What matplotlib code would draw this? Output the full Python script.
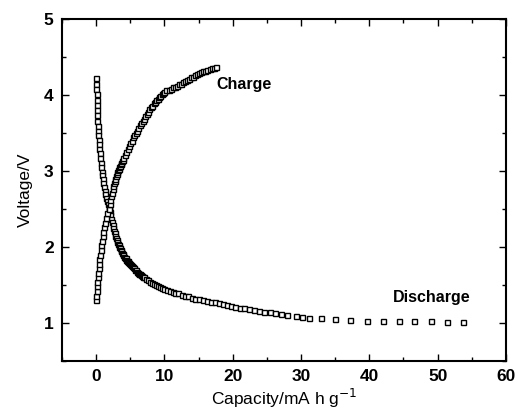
import numpy as np
import matplotlib
matplotlib.use('Agg')
import matplotlib.pyplot as plt
from matplotlib.ticker import MultipleLocator

# charge curve (capacity / mA h g-1, voltage / V)
charge_cap = [0.00, 0.04, 0.08, 0.13, 0.18, 0.23, 0.29, 0.35, 0.42, 0.49,
              0.57, 0.65, 0.74, 0.84, 0.95, 1.07, 1.20, 1.34, 1.49, 1.65,
              1.82, 2.00, 2.1, 2.2, 2.3, 2.4, 2.5, 2.6, 2.7, 2.8,
              2.9, 3.0, 3.1, 3.2, 3.3, 3.4, 3.5, 3.6, 3.7, 3.8,
              3.9, 4.0, 4.2, 4.4, 4.6, 4.8, 5.0, 5.2, 5.4, 5.6,
              5.8, 6.0, 6.2, 6.4, 6.6, 6.8, 7.0, 7.2, 7.4, 7.6,
              7.8, 8.0, 8.2, 8.4, 8.6, 8.8, 9.0, 9.2, 9.4, 9.6,
              9.8, 10.0, 10.3, 10.6, 10.9, 11.2, 11.5, 11.8, 12.1, 12.4,
              12.7, 13.0, 13.3, 13.6, 13.9, 14.2, 14.5, 14.8, 15.1, 15.4,
              15.7, 16.0, 16.3, 16.6, 16.9, 17.2, 17.5]
charge_v = [1.30, 1.36, 1.42, 1.48, 1.54, 1.60, 1.66, 1.72, 1.78, 1.84,
            1.90, 1.96, 2.02, 2.08, 2.14, 2.20, 2.26, 2.32, 2.38, 2.44,
            2.50, 2.57, 2.62, 2.67, 2.71, 2.76, 2.80, 2.84, 2.87, 2.90,
            2.93, 2.96, 2.98, 3.01, 3.03, 3.05, 3.07, 3.09, 3.11, 3.13,
            3.15, 3.17, 3.21, 3.25, 3.29, 3.33, 3.37, 3.40, 3.44, 3.47,
            3.50, 3.53, 3.56, 3.60, 3.63, 3.66, 3.69, 3.72, 3.75, 3.78,
            3.81, 3.84, 3.86, 3.89, 3.91, 3.93, 3.95, 3.97, 3.99, 4.01,
            4.02, 4.04, 4.06, 4.07, 4.08, 4.10, 4.11, 4.12, 4.14, 4.15,
            4.17, 4.18, 4.20, 4.21, 4.23, 4.24, 4.26, 4.27, 4.29, 4.30,
            4.31, 4.32, 4.33, 4.34, 4.35, 4.36, 4.37]

# discharge curve
discharge_cap = [0.00, 0.02, 0.04, 0.06, 0.08, 0.10, 0.13, 0.16, 0.19, 0.23,
                 0.27, 0.31, 0.36, 0.41, 0.47, 0.53, 0.59, 0.66, 0.73, 0.81,
                 0.89, 0.97, 1.06, 1.15, 1.25, 1.35, 1.46, 1.57, 1.69, 1.81,
                 1.93, 2.0, 2.1, 2.2, 2.3, 2.4, 2.5, 2.6, 2.7, 2.8,
                 2.9, 3.0, 3.1, 3.2, 3.3, 3.4, 3.5, 3.6, 3.7, 3.8,
                 3.9, 4.0, 4.1, 4.2, 4.3, 4.4, 4.5, 4.6, 4.7, 4.8,
                 4.9, 5.05, 5.2, 5.35, 5.5, 5.65, 5.8, 5.95, 6.1, 6.25,
                 6.4, 6.55, 6.7, 6.85, 7.0, 7.3, 7.6, 7.9, 8.2, 8.5,
                 8.8, 9.1, 9.4, 9.7, 10.0, 10.4, 10.8, 11.2, 11.6, 12.0,
                 12.5, 13.0, 13.5, 14.0, 14.5, 15.0, 15.6, 16.2, 16.8, 17.4,
                 18.0, 18.6, 19.2, 19.8, 20.4, 21.0, 21.7, 22.4, 23.1, 23.8,
                 24.6, 25.4, 26.2, 27.1, 28.0, 29.3, 30.2, 31.2, 32.9, 34.9,
                 37.2, 39.6, 42.0, 44.3, 46.6, 49.0, 51.3, 53.7]
discharge_v = [4.22, 4.15, 4.08, 4.01, 3.94, 3.87, 3.80, 3.73, 3.66, 3.59,
               3.53, 3.47, 3.41, 3.35, 3.29, 3.23, 3.17, 3.11, 3.05, 2.99,
               2.94, 2.89, 2.84, 2.79, 2.74, 2.70, 2.65, 2.61, 2.57, 2.53,
               2.49, 2.46, 2.42, 2.37, 2.33, 2.29, 2.25, 2.21, 2.18, 2.15,
               2.12, 2.09, 2.07, 2.04, 2.02, 2.00, 1.98, 1.96, 1.94, 1.92,
               1.91, 1.89, 1.87, 1.86, 1.85, 1.83, 1.82, 1.81, 1.80, 1.79,
               1.78, 1.76, 1.75, 1.73, 1.72, 1.70, 1.69, 1.67, 1.66, 1.65,
               1.64, 1.63, 1.62, 1.61, 1.60, 1.58, 1.56, 1.54, 1.53, 1.51,
               1.50, 1.48, 1.47, 1.46, 1.45, 1.43, 1.42, 1.41, 1.40, 1.39,
               1.37, 1.36, 1.35, 1.33, 1.32, 1.31, 1.30, 1.29, 1.28, 1.27,
               1.26, 1.25, 1.23, 1.22, 1.21, 1.20, 1.19, 1.18, 1.17, 1.16,
               1.15, 1.14, 1.13, 1.12, 1.11, 1.09, 1.08, 1.07, 1.06, 1.05,
               1.04, 1.03, 1.03, 1.02, 1.02, 1.02, 1.01, 1.01]

x_ticks = [0, 10, 20, 30, 40, 50, 60]
y_ticks = [1, 2, 3, 4, 5]

plt.rcParams['font.family'] = ['Liberation Sans', 'DejaVu Sans']

fig = plt.figure(figsize=(5.18, 4.12), dpi=100)
ax = fig.add_axes([0.1197, 0.124, 0.857, 0.830])

marker_style = dict(linestyle='none', marker='s', markersize=3.6,
                    markerfacecolor='white', markeredgecolor='black',
                    markeredgewidth=1.0)
ax.plot(discharge_cap, discharge_v, **marker_style)
ax.plot(charge_cap, charge_v, **marker_style)

ax.text(17.6, 4.14, 'Charge', fontsize=11.5, fontweight='bold', ha='left', va='center')
ax.text(43.5, 1.33, 'Discharge', fontsize=11.5, fontweight='bold', ha='left', va='center')

ax.set_xlim(-5, 60)
ax.set_ylim(0.5, 5)
ax.set_xticks(x_ticks)
ax.set_yticks(y_ticks)
ax.xaxis.set_minor_locator(MultipleLocator(5))
ax.yaxis.set_minor_locator(MultipleLocator(0.5))
ax.tick_params(which='both', direction='in', top=True, right=True, width=1)
ax.tick_params(which='major', length=5, labelsize=12.5, pad=6)
ax.tick_params(which='minor', length=3)
for lab in ax.get_xticklabels() + ax.get_yticklabels():
    lab.set_fontweight('heavy')
for sp in ax.spines.values():
    sp.set_linewidth(1.5)

ax.set_xlabel('Capacity/mA h g$^{\u22121}$', fontsize=12.5, labelpad=2)
ax.set_ylabel('Voltage/V', fontsize=12.5, labelpad=8)

fig.savefig('out.png', dpi=100)
